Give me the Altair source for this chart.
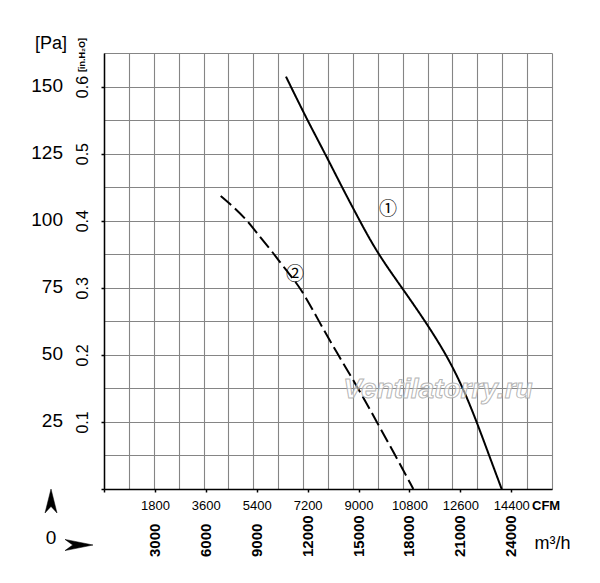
import altair as alt
import pandas as pd

# ---- data ----
cfm_ticks = [1800, 3600, 5400, 7200, 9000, 10800, 12600, 14400]
m3h_labels = ["3000", "6000", "9000", "12000", "15000", "18000", "21000", "24000"]
pa_ticks = [25, 50, 75, 100, 125, 150]
pa_labels = ["25", "50", "75", "100", "125", "150"]

curve1_cfm = [6580, 7350, 7990, 8595, 9230, 9890, 10810, 11625, 12390, 12990, 13475, 13920, 14380]
curve1_pa = [153.7, 137.5, 125.1, 112.7, 100.3, 87.8, 74.5, 62.4, 49.9, 37.5, 25.1, 12.7, 0.0]
curve2_cfm = [4220, 4675, 5160, 5580, 6065, 6580, 7125, 7775, 8470, 9195, 9860, 10525, 11185]
curve2_pa = [109.2, 105.2, 100.3, 94.7, 88.7, 81.6, 74.8, 62.4, 49.9, 37.5, 25.1, 12.7, 0.0]

FONT = "Liberation Sans, Arial, sans-serif"
GRID = "#858585"
W, H = 448, 436
XMAX_GRID = 16200
XMAX_AXIS = 15840
YMAX = 162.5

curves = pd.DataFrame({
    "cfm": curve1_cfm + curve2_cfm,
    "pa": curve1_pa + curve2_pa,
    "series": ["1"] * len(curve1_cfm) + ["2"] * len(curve2_cfm),
})

xg = alt.Scale(domain=[0, XMAX_GRID], nice=False, zero=False)
ys = alt.Scale(domain=[0, YMAX], nice=False, zero=False)

line = alt.Chart(curves).mark_line(color="black", strokeWidth=2, interpolate="basis").encode(
    x=alt.X("cfm:Q", scale=xg, axis=alt.Axis(
        orient="top", values=list(range(0, XMAX_GRID + 1, 900)), grid=True, gridColor=GRID,
        gridWidth=1.1, gridOpacity=1, labels=False, ticks=False, domain=False, title=None)),
    y=alt.Y("pa:Q", scale=ys, axis=alt.Axis(
        orient="right", values=[i * 12.5 for i in range(14)], grid=True, gridColor=GRID,
        gridWidth=1.1, gridOpacity=1, labels=False, ticks=False, domain=False, title=None)),
    strokeDash=alt.StrokeDash("series:N", scale=alt.Scale(domain=["1", "2"], range=[[1, 0], [14, 5]]), legend=None),
)

circ = pd.DataFrame({"cfm": [10270, 6907], "pa": [103.9, 79.8], "t": ["①", "②"]})
circ_text = alt.Chart(circ).mark_text(font="Noto Sans CJK SC", fontSize=18, color="black").encode(
    x=alt.X("cfm:Q", scale=xg, axis=None),
    y=alt.Y("pa:Q", scale=ys, axis=None),
    text="t:N",
)

wm = pd.DataFrame({"cfm": [12077], "pa": [36.9], "t": ["Ventilatorry.ru"]})
wm_text = alt.Chart(wm).mark_text(font=FONT, fontSize=28, fontStyle="italic",
                                  fontWeight="bold", fill="white", fillOpacity=0.55, stroke="#a8a8a8",
                                  strokeWidth=1, strokeOpacity=0.85).encode(
    x=alt.X("cfm:Q", scale=xg, axis=None),
    y=alt.Y("pa:Q", scale=ys, axis=None),
    text="t:N",
)

pa_df = pd.DataFrame({"pa": pa_ticks, "t": pa_labels})
pa_text = alt.Chart(pa_df).mark_text(font=FONT, fontSize=19, align="right", baseline="middle", dy=-1,
                                     color="black").encode(
    x=alt.value(-41),
    y=alt.Y("pa:Q", scale=ys, axis=alt.Axis(
        orient="left", values=[0] + pa_ticks, labelExpr="datum.value == 0 ? '' : format(datum.value / 250, '.1f')",
        labelAngle=270, labelAlign="center", labelBaseline="bottom", labelPadding=11,
        labelFont=FONT, labelFontSize=16, labelColor="black", tickSize=3, tickColor="black", tickWidth=1.5,
        domainColor="black", domainWidth=1.5, grid=False, title=None)),
    text="t:N",
)

xa = alt.Scale(domain=[0, XMAX_AXIS], nice=False, zero=False)
m3_df = pd.DataFrame({"cfm": cfm_ticks, "t": m3h_labels})
m3_text = alt.Chart(m3_df).mark_text(font=FONT, fontSize=15, fontWeight="bold", angle=270, align="left",
                                     baseline="middle", color="black").encode(
    x=alt.X("cfm:Q", scale=xa, axis=alt.Axis(
        orient="bottom", values=[0] + cfm_ticks, labelExpr="datum.value == 0 ? '' : datum.value",
        labelFont=FONT, labelFontSize=13, labelColor="black", labelPadding=7, labelBaseline="top",
        tickSize=3, tickColor="black", tickWidth=1.5, domainColor="black", domainWidth=1.5,
        grid=False, title=None, labelFlush=False, labelOverlap=False)),
    y=alt.value(504),
    text="t:N",
)

one = pd.DataFrame({"a": [0]})
extra = [
    ("[Pa]", -53, -9.5, 18, 0, "center", "normal"),
    ("[in.H₂O]", -22, 2, 9, 270, "center", "bold"),
    ("CFM", 428, 452.5, 13, 0, "left", "bold"),
    ("m³/h", 448.5, 490.5, 18, 0, "center", "normal"),
    ("0", -53, 484.5, 19, 0, "center", "normal"),
]
extra_layers = []
for t, xx, yy, fs, ang, al, fw in extra:
    extra_layers.append(
        alt.Chart(one).mark_text(text=t, font=FONT, fontSize=fs, angle=ang, align=al, baseline="middle",
                                 color="black", fontWeight=fw)
        .encode(x=alt.value(xx), y=alt.value(yy))
    )

up_arrow = alt.Chart(one).mark_point(shape="M0,-1L0.5,1L0,0.45L-0.5,1Z", filled=True, fill="black",
                                     stroke="black", strokeWidth=0.5, opacity=1, size=576).encode(
    x=alt.value(-53), y=alt.value(448))
right_arrow = alt.Chart(one).mark_point(shape="M1,0L-1,0.4L-0.45,0L-1,-0.4Z", filled=True, fill="black",
                                        stroke="black", strokeWidth=0.5, opacity=1, size=784).encode(
    x=alt.value(-25), y=alt.value(492))

chart = alt.layer(line, circ_text, wm_text, pa_text, m3_text, up_arrow, right_arrow, *extra_layers).resolve_scale(
    x="independent"
).resolve_axis(x="independent", y="independent").properties(
    width=W, height=H,
    autosize=alt.AutoSizeParams(type="none"),
    padding={"left": 96, "top": 45, "right": 40, "bottom": 86},
    background="white",
).configure_view(strokeWidth=0)

chart.save("out.html", embed_options={"renderer": "svg", "actions": False})
